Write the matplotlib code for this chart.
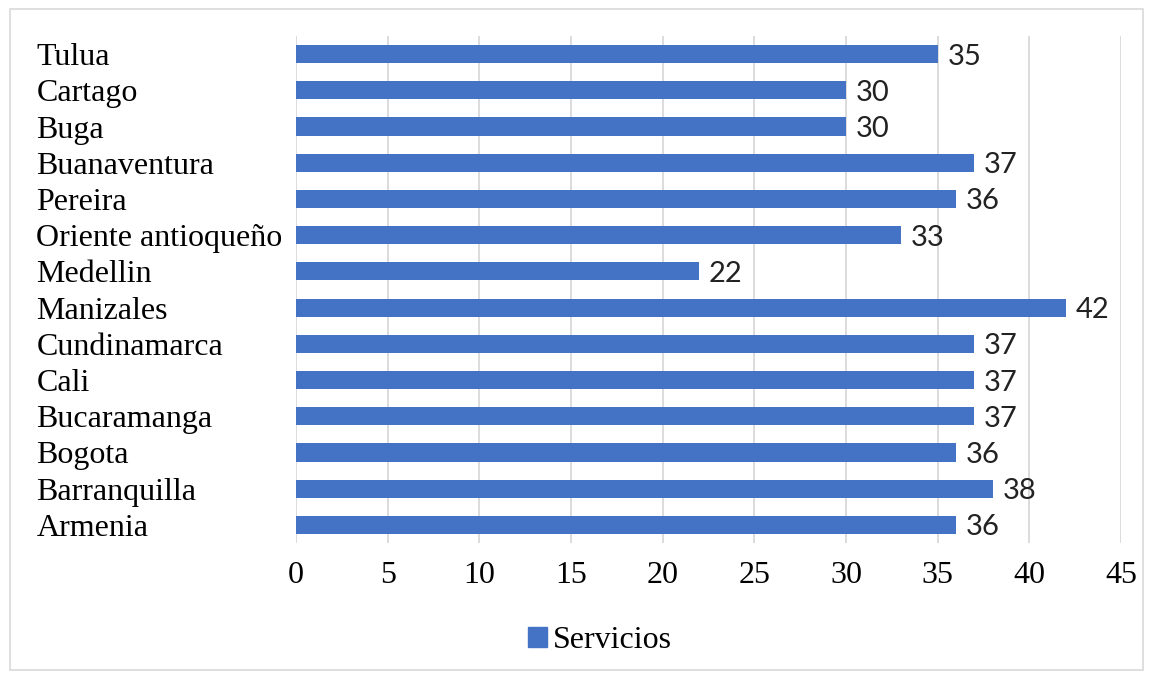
import matplotlib.pyplot as plt
from matplotlib.patches import Rectangle, Patch

cities = ["Armenia", "Barranquilla", "Bogota", "Bucaramanga", "Cali", "Cundinamarca",
          "Manizales", "Medellin", "Oriente antioqueño", "Pereira", "Buanaventura",
          "Buga", "Cartago", "Tulua"]
servicios = [36, 38, 36, 37, 37, 37, 42, 22, 33, 36, 37, 30, 30, 35]
xticks = [0, 5, 10, 15, 20, 25, 30, 35, 40, 45]

bar_color = "#4472C4"
serif = ["Liberation Serif", "DejaVu Serif"]

fig = plt.figure(figsize=(11.53, 6.79), dpi=100)
ax = fig.add_axes([296 / 1153, 1 - 543 / 679, (1121 - 296) / 1153, (543 - 36) / 679])

pos = list(range(len(cities)))
ax.barh(pos, servicios, height=0.5, color=bar_color, zorder=3)
for y, v in zip(pos, servicios):
    ax.annotate(str(v), (v, y), xytext=(7, 0), textcoords="offset points",
                va="center_baseline", ha="left", fontsize=21, family="Lato",
                color="#222222")

ax.set_xlim(0, 45)
ax.set_ylim(-0.5, len(cities) - 0.5)
ax.set_xticks(xticks)
ax.set_xticklabels([str(t) for t in xticks], family=serif, fontsize=23)
ax.set_yticks(pos)
ax.set_yticklabels(cities, family=serif, fontsize=23, ha="left")
ax.tick_params(axis="y", length=0, pad=187)
ax.tick_params(axis="x", length=0, pad=13)
ax.grid(axis="x", color="#d9d9d9", linewidth=1.3, zorder=0)
for s in ax.spines.values():
    s.set_visible(False)

fig.legend(handles=[Patch(color=bar_color, label="Servicios")], loc="center",
           bbox_to_anchor=(600 / 1153, 1 - 641 / 679), frameon=False,
           prop={"family": serif, "size": 23}, handlelength=0.6, handleheight=0.6,
           handletextpad=0.2)

# thin frame around the whole chart
fig.patches.append(Rectangle((10 / 1153, 9 / 679), 1133 / 1153, 661 / 679,
                             transform=fig.transFigure, fill=False,
                             edgecolor="#d9d9d9", linewidth=1.2))

fig.savefig("out.png", dpi=100)
